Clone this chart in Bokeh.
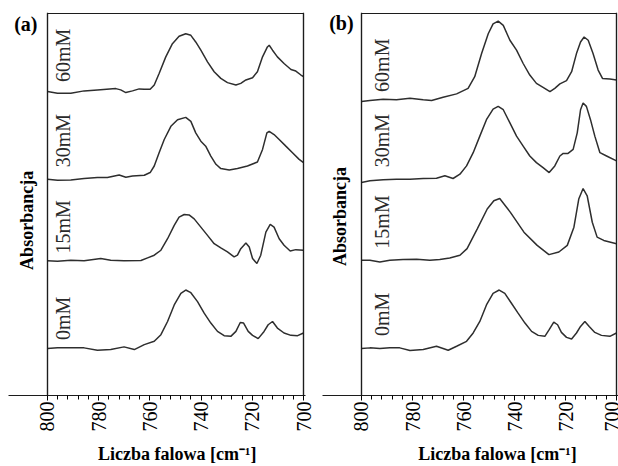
import math
from bokeh.plotting import figure
from bokeh.layouts import row
from bokeh.models import Range1d, FixedTicker, Label, Span
from bokeh.embed import file_html
from bokeh.resources import INLINE

# ---------------- data ----------------
concentrations = ["0mM", "15mM", "30mM", "60mM"]
major_ticks = [700, 720, 740, 760, 780, 800]
minor_ticks = [704, 708, 712, 716, 724, 728, 732, 736, 744, 748, 752, 756,
               764, 768, 772, 776, 784, 788, 792, 796]

# panel (a)
a0_wn = [800, 796.1, 790.9, 785.7, 780.5, 775.3, 770.1, 766.1, 762.2, 758.3, 755.7, 753.1, 750.5, 747.9, 746.0,
         744.0, 741.4, 738.8, 736.2, 733.6, 731.0, 728.4, 726.4, 724.7, 723.4, 721.6, 719.9, 717.7, 715.4, 713.8,
         712.1, 710.2, 707.6, 704.9, 702.3, 700]
a0_abs = [0, 0.007, 0.007, 0.007, -0.017, -0.010, 0.017, -0.010, 0.040, 0.073, 0.140, 0.273, 0.440, 0.557, 0.590,
          0.563, 0.473, 0.357, 0.257, 0.173, 0.130, 0.123, 0.173, 0.263, 0.257, 0.173, 0.133, 0.100, 0.173, 0.240,
          0.273, 0.207, 0.157, 0.133, 0.130, 0.157]

a15_wn = [800, 796.1, 790.9, 785.7, 779.2, 775.3, 770.1, 763.5, 760.9, 758.3, 755.7, 753.1, 750.5, 748.6, 746.6,
          744.7, 742.7, 740.1, 737.5, 734.9, 732.3, 729.7, 727.1, 725.8, 724.5, 722.5, 721.2, 719.9, 718.2, 716.7,
          714.7, 713.0, 711.5, 709.5, 707.6, 705.2, 703.0, 700]
a15_abs = [0, -0.003, 0.007, 0, 0.023, 0.007, 0, 0.003, 0.030, 0.057, 0.107, 0.223, 0.357, 0.440, 0.467,
           0.463, 0.423, 0.340, 0.257, 0.173, 0.130, 0.090, 0.040, 0.057, 0.123, 0.180, 0.140, 0.023, -0.027, 0.057,
           0.290, 0.367, 0.340, 0.223, 0.157, 0.100, 0.113, 0.107]

a30_wn = [800, 796.1, 790.9, 785.7, 780.5, 776.6, 772.0, 769.4, 766.8, 762.2, 759.9, 758.3, 756.4, 754.4, 751.8,
          749.2, 746.0, 744.0, 742.1, 740.1, 738.2, 736.2, 734.2, 732.3, 729.0, 725.8, 721.9, 718.0, 716.0, 714.3,
          713.4, 711.5, 709.5, 706.9, 704.3, 701.7, 700]
a30_abs = [0, -0.010, -0.007, 0.007, 0.017, 0.017, 0.043, 0.020, 0.033, 0.040, 0.067, 0.133, 0.267, 0.400, 0.533,
           0.600, 0.623, 0.583, 0.467, 0.383, 0.333, 0.233, 0.150, 0.107, 0.093, 0.107, 0.133, 0.173, 0.300, 0.467,
           0.483, 0.450, 0.400, 0.333, 0.267, 0.200, 0.167]

a60_wn = [800, 796.1, 790.9, 785.7, 780.5, 773.3, 771.4, 769.4, 766.8, 764.2, 762.2, 759.9, 758.3, 756.4, 753.8,
          751.2, 748.6, 746.0, 744.0, 742.1, 740.1, 737.5, 734.9, 732.3, 729.7, 726.4, 724.5, 722.5, 719.9, 718.0,
          716.0, 714.1, 713.4, 712.1, 710.2, 707.6, 704.9, 703.0, 701.0, 700]
a60_abs = [0, -0.017, -0.017, 0.007, 0.017, 0.030, 0.017, -0.010, 0.007, 0.027, 0.023, 0.023, 0.067, 0.183, 0.350,
           0.483, 0.557, 0.583, 0.567, 0.500, 0.417, 0.300, 0.200, 0.133, 0.090, 0.067, 0.083, 0.117, 0.140, 0.200,
           0.350, 0.450, 0.467, 0.417, 0.350, 0.283, 0.223, 0.207, 0.167, 0.150]

a_offsets = [0.473, 1.357, 2.180, 3.063]

# panel (b)
b0_wn = [800, 796.7, 792.8, 788.9, 785.0, 781.0, 775.8, 770.6, 766.0, 762.7, 758.8, 756.2, 753.6, 751.0, 748.4,
         746.0, 743.8, 741.2, 738.6, 735.9, 733.3, 730.7, 728.1, 726.4, 724.6, 723.1, 721.6, 719.6, 717.6, 715.7,
         714.1, 712.4, 710.7, 708.5, 705.9, 702.6, 700]
b0_abs = [0, 0.007, 0, 0.007, 0.007, -0.020, -0.010, 0.023, -0.017, 0.023, 0.073, 0.157, 0.273, 0.440, 0.557,
          0.590, 0.557, 0.457, 0.357, 0.257, 0.173, 0.133, 0.123, 0.190, 0.267, 0.240, 0.163, 0.113, 0.097, 0.157,
          0.223, 0.273, 0.223, 0.163, 0.133, 0.123, 0.157]

b15_wn = [800, 796.7, 792.8, 788.9, 783.7, 778.4, 773.2, 769.3, 765.4, 761.4, 758.6, 754.6, 750.7, 748.1, 745.8,
          741.6, 736.3, 731.1, 726.5, 722.6, 719.3, 716.7, 714.8, 713.1, 711.5, 709.5, 707.6, 705.0, 700]
b15_abs = [0, 0, -0.017, 0, 0.007, 0.010, 0, 0.007, 0.023, 0.050, 0.117, 0.317, 0.517, 0.600, 0.623,
           0.483, 0.283, 0.150, 0.057, 0.083, 0.150, 0.333, 0.617, 0.723, 0.650, 0.383, 0.233, 0.200, 0.167]

b30_wn = [800, 796.7, 791.5, 786.3, 781.0, 775.8, 770.6, 767.3, 764.1, 761.4, 758.8, 756.2, 753.6, 751.0, 748.4,
          746.4, 744.4, 741.8, 739.2, 736.6, 734.0, 731.4, 728.8, 726.4, 724.2, 722.2, 720.9, 719.0, 717.0, 715.4,
          714.1, 713.1, 711.8, 710.2, 708.5, 706.5, 703.9, 700]
b30_abs = [0, 0.017, 0.027, 0.033, 0.033, 0.040, 0.043, 0.067, 0.040, 0.083, 0.167, 0.300, 0.467, 0.633, 0.740,
           0.767, 0.733, 0.600, 0.467, 0.367, 0.267, 0.200, 0.150, 0.100, 0.167, 0.267, 0.293, 0.293, 0.333, 0.500,
           0.733, 0.800, 0.767, 0.633, 0.467, 0.300, 0.267, 0.217]

b60_wn = [800, 796.7, 791.5, 786.3, 781.0, 775.8, 772.5, 768.0, 762.7, 758.2, 755.6, 752.9, 750.3, 748.4, 746.4,
          744.4, 741.8, 739.2, 736.6, 734.0, 731.4, 728.8, 726.1, 724.2, 722.2, 719.6, 717.6, 715.7, 714.1, 712.7,
          711.1, 709.2, 707.2, 705.5, 702.6, 700]
b60_abs = [0, 0.010, 0.023, 0.017, 0.033, 0.017, 0.010, 0.043, 0.077, 0.133, 0.250, 0.483, 0.683, 0.783, 0.810,
           0.767, 0.617, 0.517, 0.383, 0.267, 0.183, 0.143, 0.100, 0.133, 0.177, 0.210, 0.300, 0.483, 0.600, 0.650,
           0.617, 0.483, 0.317, 0.233, 0.227, 0.217]

b_offsets = [0.473, 1.363, 2.147, 2.963]

x_label = "Liczba falowa [cm\u207b\u00b9]"
y_label = "Absorbancja"

# axis limits of the drawn box (wavenumber, absorbance a.u.)
X_START, X_END = 800.0, 700.0
Y_BOTTOM, Y_TOP = 0.0, 3.85

# ---------------- styling ----------------
SERIF = "Liberation Serif"
LINE = "#2e2e2e"
BOX = "#1c1c1c"
H = 466


def panel(tag, wns, abss, offsets, width, bl, br, x_lo, x_hi, tag_xy, ylab_xy, lab_x, lab_y, xlab_pad):
    p = figure(width=width, height=H, output_backend="svg", toolbar_location=None,
               x_range=Range1d(x_lo, x_hi), y_range=Range1d(Y_BOTTOM, 3.86),
               y_axis_location=None,
               min_border_left=bl, min_border_right=br, min_border_top=12, min_border_bottom=68)
    p.background_fill_color = "white"
    p.border_fill_color = "white"
    p.grid.visible = False
    p.outline_line_color = None

    xa = p.below[0]

    for wn, ab, off in zip(wns, abss, offsets):
        p.line(wn, [off + a for a in ab], line_color=LINE, line_width=1.5)

    # the box around the spectra (axis limits)
    for xv in (X_START, X_END):
        p.add_layout(Span(location=xv, dimension="height", line_color=BOX, line_width=1.2))
    p.line([X_START, X_START, X_END, X_END, X_START], [Y_BOTTOM, Y_TOP, Y_TOP, Y_BOTTOM, Y_BOTTOM],
           line_color=BOX, line_width=1.2)

    xa.ticker = FixedTicker(ticks=major_ticks, minor_ticks=minor_ticks)
    xa.major_label_orientation = math.pi / 2
    xa.major_label_text_font = SERIF
    xa.major_label_text_font_size = "20px"
    xa.major_label_text_color = "black"
    xa.major_label_standoff = 1
    xa.major_tick_out = 5
    xa.major_tick_in = 0
    xa.minor_tick_out = 4
    xa.minor_tick_in = 0
    xa.axis_line_color = BOX
    xa.axis_line_width = 1
    xa.major_tick_line_color = "black"
    xa.minor_tick_line_color = "black"
    xa.axis_label = "\u00a0" * xlab_pad + x_label
    xa.axis_label_text_font = SERIF
    xa.axis_label_text_font_style = "bold"
    xa.axis_label_text_font_size = "18px"
    xa.axis_label_text_color = "black"
    xa.axis_label_standoff = 9

    p.add_layout(Label(x=tag_xy[0], y=tag_xy[1], text=tag, text_align="right", text_baseline="middle",
                       text_font=SERIF, text_font_style="bold", text_font_size="20px", text_color="black"))
    p.add_layout(Label(x=ylab_xy[0], y=ylab_xy[1], text=y_label, angle=math.pi / 2, text_align="center",
                       text_baseline="middle", text_font=SERIF, text_font_style="bold",
                       text_font_size="18px", text_color="black"))

    for name, ly in zip(concentrations, lab_y):
        p.add_layout(Label(x=lab_x, y=ly, text=name, angle=math.pi / 2, text_align="left",
                           text_baseline="alphabetic", text_font=SERIF, text_font_size="20px",
                           text_color="#2a2a2a"))
    return p


pa = panel("(a)", [a0_wn, a15_wn, a30_wn, a60_wn], [a0_abs, a15_abs, a30_abs, a60_abs], a_offsets,
           313, 8, 8, 815.234, 699.219, (803.9, 3.74), (808.2, 1.765),
           793.8, [0.56, 1.43, 2.30, 3.16], 9)
pb = panel("(b)", [b0_wn, b15_wn, b30_wn, b60_wn], [b0_abs, b15_abs, b30_abs, b60_abs], b_offsets,
           305, 9, 0, 815.294, 699.216, (803.1, 3.75), (808.6, 1.805),
           791.8, [0.60, 1.48, 2.30, 3.06], 12)

layout = row(pa, pb)
open("out.html", "w").write(file_html(layout, INLINE))
